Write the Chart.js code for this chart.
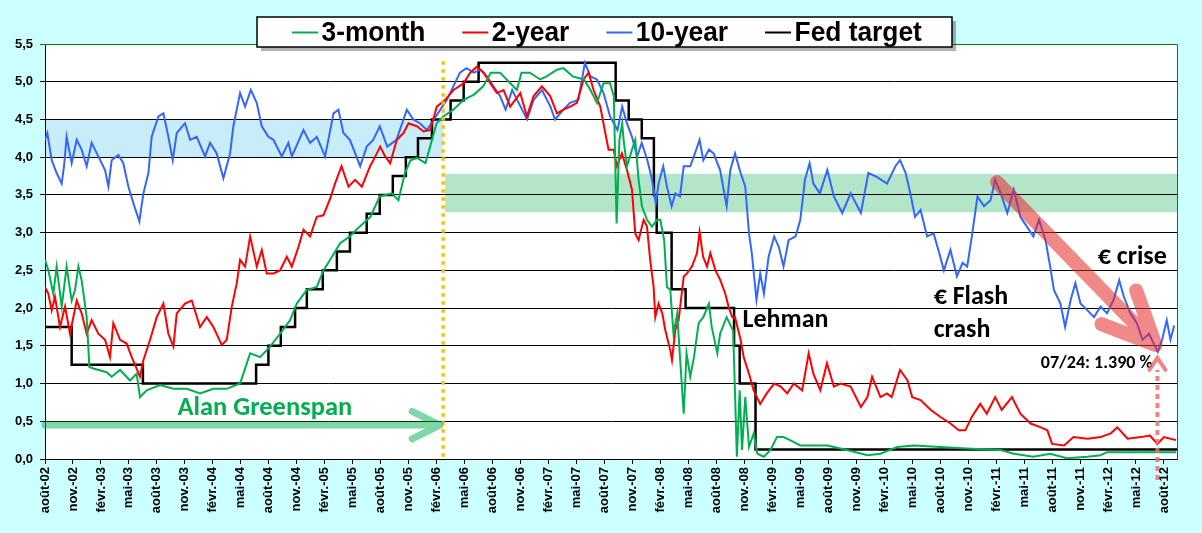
<!DOCTYPE html>
<html>
<head>
<meta charset="utf-8">
<script src="https://cdn.jsdelivr.net/npm/chart.js@4.4.0/dist/chart.umd.min.js"></script>
<style>
  html, body { margin: 0; padding: 0; background: #ccffff; }
  #wrap { width: 1202px; height: 533px; position: relative; }
</style>
</head>
<body>
<div id="wrap"><canvas id="ratesChart"></canvas></div>
<script>
// x = months counted from the août-02 tick (one tick every 3 months), y = rate in %
const tickLabels = [
  "août-02", "nov.-02", "févr.-03", "mai-03", "août-03", "nov.-03", "févr.-04", "mai-04",
  "août-04", "nov.-04", "févr.-05", "mai-05", "août-05", "nov.-05", "févr.-06", "mai-06",
  "août-06", "nov.-06", "févr.-07", "mai-07", "août-07", "nov.-07", "févr.-08", "mai-08",
  "août-08", "nov.-08", "févr.-09", "mai-09", "août-09", "nov.-09", "févr.-10", "mai-10",
  "août-10", "nov.-10", "févr.-11", "mai-11", "août-11", "nov.-11", "févr.-12", "mai-12",
  "août-12"
];

const threeMonth = [
  [0,2.64],[0.36,2.50],[0.89,2.19],[1.25,2.55],[1.79,2.02],[2.32,2.55],[2.86,2.10],[3.22,2.24],
  [3.58,2.55],[3.93,2.37],[4.47,1.88],[4.76,1.22],[5.19,1.20],[6.62,1.15],[7.15,1.09],[8.05,1.18],
  [9.12,1.04],[9.83,1.13],[10.19,0.82],[10.9,0.91],[12.34,0.98],[13.77,0.93],[15.2,0.93],[16.63,0.87],
  [18.06,0.93],[19.49,0.93],[20.92,1.00],[22.0,1.40],[23.07,1.35],[24.14,1.49],[25.21,1.66],[26.29,1.84],
  [27.0,2.06],[28.08,2.24],[29.15,2.28],[29.86,2.50],[30.58,2.64],[31.65,2.86],[32.7,2.95],[33.4,3.04],
  [34.9,3.21],[35.9,3.48],[37.2,3.52],[37.9,3.43],[38.6,3.79],[39.2,3.96],[39.9,3.99],[40.8,3.92],
  [41.3,4.14],[42.0,4.45],[42.7,4.54],[43.8,4.63],[44.9,4.76],[46.0,4.83],[47.0,4.94],[47.8,5.12],
  [48.8,5.12],[49.9,4.98],[50.6,4.89],[51.1,5.12],[52.0,5.12],[53.1,5.03],[53.8,5.07],[54.9,5.16],
  [55.6,5.18],[56.6,5.07],[57.8,5.03],[58.5,4.89],[59.2,4.72],[59.9,4.98],[60.6,4.98],[61.0,4.81],
  [61.3,3.12],[61.6,4.23],[61.9,4.45],[62.05,4.23],[62.41,3.88],[62.95,4.10],[63.3,4.23],[63.66,3.70],
  [64.02,3.35],[64.56,3.17],[65.09,3.08],[65.63,3.17],[65.99,3.17],[66.4,2.90],[66.7,2.28],[67.06,2.24],
  [67.4,1.66],[67.8,1.93],[68.1,1.35],[68.5,0.60],[68.8,1.40],[69.2,1.09],[69.6,1.35],[70.1,1.80],
  [70.6,1.88],[71.2,2.06],[71.5,1.75],[72.1,1.40],[72.4,1.66],[73.1,1.88],[73.8,1.70],[74.2,0.03],
  [74.5,0.91],[74.75,0.12],[75.1,0.82],[75.5,0.16],[76.0,0.34],[76.4,0.07],[77.1,0.03],[77.8,0.12],
  [78.5,0.29],[79.2,0.29],[79.9,0.25],[81.0,0.18],[82.1,0.18],[83.9,0.18],[86.0,0.12],[88.2,0.05],
  [89.6,0.07],[91.4,0.16],[93.2,0.18],[96.0,0.16],[98.8,0.14],[102.5,0.12],[103.9,0.07],[106.0,0.03],
  [107.8,0.07],[109.6,0.01],[111.8,0.03],[113.2,0.05],[113.9,0.09],[116.8,0.09],[121.3,0.09]
];

const twoYear = [
  [0,2.28],[0.36,2.19],[0.72,1.97],[1.07,2.15],[1.61,1.75],[2.15,2.02],[2.68,1.66],[3.40,2.10],
  [3.93,1.93],[4.47,1.66],[5.0,1.84],[5.72,1.66],[6.44,1.58],[6.97,1.35],[7.33,1.80],[8.05,1.58],
  [8.76,1.53],[9.3,1.35],[10.19,1.09],[10.55,1.31],[11.27,1.58],[11.98,1.88],[12.7,2.06],[13.23,1.66],
  [13.77,1.49],[14.13,1.93],[15.02,2.06],[15.74,2.10],[16.63,1.75],[17.35,1.88],[18.06,1.75],[18.96,1.51],
  [19.49,1.58],[20.03,2.02],[20.57,2.33],[20.92,2.64],[21.46,2.55],[22.0,2.95],[22.71,2.55],[23.25,2.77],
  [23.78,2.46],[24.5,2.46],[25.21,2.50],[25.93,2.68],[26.47,2.55],[27.18,2.81],[27.72,3.04],[28.43,2.95],
  [29.15,3.21],[29.86,3.23],[30.58,3.45],[31.1,3.65],[31.8,3.88],[32.55,3.61],[33.26,3.70],[33.98,3.61],
  [34.87,3.88],[35.59,4.05],[35.95,4.14],[36.48,4.01],[37.02,3.92],[37.73,4.23],[38.45,4.32],[38.98,4.45],
  [39.88,4.41],[40.59,4.34],[41.31,4.36],[42.02,4.67],[42.92,4.76],[43.81,4.89],[44.89,4.98],[45.6,5.12],
  [46.32,5.20],[47.03,5.12],[47.75,4.98],[48.46,4.85],[49.18,4.89],[49.89,4.67],[50.43,4.76],[50.97,4.85],
  [51.68,4.54],[52.4,4.81],[53.29,4.94],[54.18,4.81],[54.9,4.58],[55.6,4.63],[56.33,4.67],[57.04,4.72],
  [57.76,5.03],[58.3,5.12],[58.83,4.89],[59.55,4.67],[60.09,4.32],[60.44,4.10],[60.98,4.10],[61.34,3.88],
  [61.87,4.05],[62.41,3.83],[62.95,3.57],[63.3,2.99],[63.66,2.90],[64.2,3.17],[64.56,3.08],[64.9,2.64],
  [65.27,2.28],[65.45,1.88],[65.8,2.06],[66.2,1.93],[66.52,1.71],[67.06,1.44],[67.24,1.31],[67.6,1.71],
  [67.95,1.84],[68.5,2.42],[68.85,2.46],[69.38,2.55],[69.92,2.73],[70.2,3.01],[70.58,2.68],[71.0,2.55],
  [71.35,2.73],[71.9,2.50],[72.42,2.37],[72.96,2.19],[73.3,2.02],[73.7,1.88],[74.0,1.88],[74.6,1.58],
  [74.93,1.35],[75.5,1.13],[76.0,0.91],[76.7,0.73],[77.4,0.87],[78.2,1.00],[78.9,0.96],[79.6,0.87],
  [80.3,1.00],[81.2,0.91],[81.9,1.40],[82.4,1.13],[83.15,0.91],[83.86,1.27],[84.6,0.96],[85.3,1.00],
  [86.4,0.96],[87.5,0.69],[88.2,0.82],[88.7,1.09],[89.6,0.82],[90.3,0.87],[90.8,0.82],[91.7,1.18],
  [92.5,1.04],[93.0,0.82],[93.9,0.78],[95.0,0.65],[96.0,0.56],[97.1,0.47],[98.0,0.38],[98.7,0.38],
  [99.4,0.56],[100.3,0.73],[101.0,0.60],[101.9,0.82],[102.6,0.65],[103.7,0.82],[104.6,0.60],[105.7,0.47],
  [106.8,0.42],[107.5,0.38],[108.0,0.20],[109.3,0.18],[110.3,0.29],[111.8,0.27],[113.2,0.29],[114.3,0.34],
  [115.0,0.42],[116.1,0.27],[117.5,0.29],[118.5,0.31],[119.3,0.20],[120.0,0.29],[121.3,0.25]
];

const tenYear = [
  [0,4.23],[0.25,4.32],[0.72,3.96],[1.25,3.79],[1.79,3.65],[2.04,3.88],[2.32,4.27],[2.86,3.92],
  [3.40,4.23],[3.93,4.10],[4.47,3.88],[5.0,4.19],[5.72,4.01],[6.44,3.83],[6.8,3.61],[7.15,3.96],
  [7.87,4.03],[8.4,3.92],[8.94,3.61],[9.48,3.39],[10.12,3.15],[10.55,3.52],[11.09,3.79],[11.44,4.27],
  [12.16,4.54],[12.7,4.58],[13.23,4.27],[13.7,3.96],[14.13,4.32],[15.02,4.45],[15.56,4.23],[16.27,4.27],
  [17.17,4.01],[17.7,4.19],[18.42,4.05],[19.13,3.72],[19.85,4.05],[20.2,4.41],[20.92,4.85],[21.46,4.67],
  [22.07,4.89],[22.71,4.72],[23.25,4.41],[23.96,4.27],[24.5,4.23],[25.39,4.01],[26.1,4.19],[26.47,4.01],
  [27.72,4.36],[28.43,4.19],[29.15,4.27],[30.04,4.01],[30.94,4.58],[31.47,4.63],[32.0,4.32],[32.7,4.23],
  [33.8,3.88],[34.5,4.14],[35.2,4.23],[35.9,4.41],[36.7,4.14],[37.7,4.23],[38.8,4.63],[39.5,4.50],
  [40.2,4.45],[40.95,4.36],[41.7,4.50],[42.4,4.63],[43.1,4.76],[43.8,4.94],[44.5,5.12],[45.2,5.18],
  [46.0,5.12],[46.7,5.16],[47.4,5.07],[48.1,4.94],[48.8,4.81],[49.4,4.63],[50.1,4.89],[50.8,4.72],
  [51.7,4.50],[52.4,4.76],[53.3,4.89],[54.2,4.67],[54.7,4.50],[55.6,4.63],[56.3,4.72],[57.2,4.76],
  [57.9,5.25],[58.5,5.07],[59.2,5.03],[59.9,4.85],[60.6,4.54],[61.4,4.36],[61.9,4.67],[62.4,4.45],
  [62.95,4.27],[63.5,4.01],[64.0,4.19],[64.6,3.96],[65.1,3.70],[65.5,3.39],[65.8,3.65],[66.3,3.88],
  [66.7,3.61],[67.2,3.35],[67.6,3.52],[68.1,3.48],[68.5,3.88],[69.2,3.88],[69.7,4.05],[70.2,4.23],
  [70.6,3.96],[71.2,4.10],[71.7,4.05],[72.4,3.83],[73.1,3.35],[73.5,3.83],[74.0,4.05],[74.6,3.79],
  [75.1,3.61],[75.5,2.99],[75.8,2.73],[76.3,2.11],[76.7,2.46],[77.1,2.19],[77.6,2.68],[78.2,2.95],
  [78.7,2.81],[79.2,2.55],[79.75,2.90],[80.5,2.95],[81.0,3.17],[81.5,3.70],[82.0,3.92],[82.4,3.65],
  [83.1,3.52],[83.9,3.83],[84.6,3.48],[85.5,3.26],[86.4,3.52],[87.5,3.26],[88.3,3.79],[89.2,3.74],
  [90.3,3.65],[91.2,3.88],[91.7,3.96],[92.3,3.79],[92.8,3.52],[93.3,3.21],[93.9,3.30],[94.6,2.95],
  [95.3,2.99],[95.9,2.73],[96.4,2.50],[97.1,2.77],[97.8,2.42],[98.4,2.60],[98.9,2.55],[99.4,2.95],
  [100.0,3.48],[100.7,3.35],[101.4,3.43],[101.9,3.70],[102.5,3.52],[103.2,3.26],[103.9,3.57],[104.6,3.21],
  [105.3,3.08],[106.0,2.95],[106.6,3.17],[107.3,2.90],[107.8,2.55],[108.2,2.24],[108.9,2.06],[109.4,1.75],
  [110.0,2.11],[110.5,2.33],[111.05,2.06],[111.8,1.97],[112.5,1.88],[113.2,2.02],[113.9,1.93],[114.6,2.11],
  [115.2,2.37],[115.7,2.15],[116.4,1.93],[117.1,1.80],[117.7,1.58],[118.4,1.66],[118.9,1.53],[119.35,1.42],
  [119.8,1.58],[120.3,1.84],[120.7,1.58],[121.1,1.77]
];

// each point = date of a change and the new target
const fedTarget = [
  [0,1.75],[2.86,1.25],[10.5,1.00],[22.64,1.25],[23.96,1.50],[25.29,1.75],[26.82,2.00],[28.08,2.25],
  [29.79,2.50],[31.3,2.75],[32.7,3.00],[34.5,3.25],[35.9,3.50],[37.3,3.75],[38.7,4.00],[40.0,4.25],
  [41.5,4.50],[43.5,4.75],[44.9,5.00],[46.5,5.25],[61.2,4.75],[62.6,4.50],[64.0,4.25],[65.3,3.50],
  [65.6,3.00],[67.2,2.25],[68.7,2.00],[73.9,1.50],[74.5,1.00],[76.2,0.125],[121.4,0.125]
];

const xMax = 121.4;
const greenspanEnd = 42.7;
const tenYearLow = 119.3;

const toXY = arr => arr.map(p => ({ x: p[0], y: p[1] }));

Chart.defaults.font.family = '"Liberation Sans", Arial, sans-serif';
Chart.defaults.color = "#000";

const noteFont = '"Carlito", "Lato", sans-serif';

function strokeArrow(ctx, x1, y1, x2, y2, headLen, headAngle) {
  const ang = Math.atan2(y2 - y1, x2 - x1);
  ctx.beginPath();
  ctx.moveTo(x1, y1);
  ctx.lineTo(x2, y2);
  ctx.moveTo(x2 - headLen * Math.cos(ang - headAngle), y2 - headLen * Math.sin(ang - headAngle));
  ctx.lineTo(x2, y2);
  ctx.lineTo(x2 - headLen * Math.cos(ang + headAngle), y2 - headLen * Math.sin(ang + headAngle));
  ctx.stroke();
}

const decorations = {
  id: "decorations",
  beforeDraw(chart) {
    const { ctx, chartArea: a, scales: { x, y } } = chart;
    ctx.save();
    ctx.fillStyle = "#fff";
    ctx.fillRect(a.left, a.top, a.right - a.left, a.bottom - a.top);
    // 10-year range under Greenspan
    ctx.fillStyle = "#c9ecf9";
    ctx.fillRect(a.left, y.getPixelForValue(4.5), x.getPixelForValue(greenspanEnd) - a.left,
      y.getPixelForValue(4.0) - y.getPixelForValue(4.5));
    // 10-year range after
    ctx.fillStyle = "#b3e6c9";
    const gx = x.getPixelForValue(greenspanEnd) + 2;
    ctx.fillRect(gx, y.getPixelForValue(3.78), a.right - gx,
      y.getPixelForValue(3.27) - y.getPixelForValue(3.78));
    ctx.restore();
  },
  afterDatasetsDraw(chart) {
    const { ctx, chartArea: a, scales: { x, y } } = chart;
    ctx.save();
    ctx.lineCap = "round";
    ctx.lineJoin = "round";

    // end of Greenspan term
    ctx.strokeStyle = "#ffc000";
    ctx.lineWidth = 3.5;
    ctx.lineCap = "butt";
    ctx.setLineDash([3.5, 4.5]);
    ctx.beginPath();
    ctx.moveTo(x.getPixelForValue(greenspanEnd), y.getPixelForValue(5.27));
    ctx.lineTo(x.getPixelForValue(greenspanEnd), a.bottom);
    ctx.stroke();
    ctx.setLineDash([]);
    ctx.lineCap = "round";

    // Greenspan arrow
    ctx.strokeStyle = "rgba(0,176,80,0.5)";
    ctx.lineWidth = 7;
    strokeArrow(ctx, a.left, y.getPixelForValue(0.45), x.getPixelForValue(42.35), y.getPixelForValue(0.45), 31, 0.46);

    // falling 10-year arrow
    ctx.strokeStyle = "rgba(232,40,40,0.55)";
    ctx.lineWidth = 14;
    strokeArrow(ctx, x.getPixelForValue(102.1), y.getPixelForValue(3.67),
      x.getPixelForValue(119.1), y.getPixelForValue(1.51), 58, 0.43);

    // text notes
    ctx.textBaseline = "alphabetic";
    ctx.textAlign = "left";
    ctx.fillStyle = "#00b050";
    ctx.font = "bold 26.5px " + noteFont;
    ctx.fillText("Alan Greenspan", x.getPixelForValue(14.2), y.getPixelForValue(0.585));
    ctx.fillStyle = "#000";
    ctx.font = "bold 26px " + noteFont;
    ctx.fillText("Lehman", x.getPixelForValue(74.8), y.getPixelForValue(1.75));
    ctx.fillText("€ Flash", x.getPixelForValue(95.3), y.getPixelForValue(2.06));
    ctx.fillText("crash", x.getPixelForValue(95.3), y.getPixelForValue(1.62));
    ctx.fillText("€ crise", x.getPixelForValue(112.9), y.getPixelForValue(2.58));
    ctx.font = "bold 18px " + noteFont;
    ctx.fillText("07/24: 1.390 %", x.getPixelForValue(106.8), y.getPixelForValue(1.21));
    ctx.restore();
  },
  afterDraw(chart) {
    const { ctx, chartArea: a, scales: { x, y } } = chart;
    ctx.save();
    // plot frame right and top
    ctx.strokeStyle = "#008000";
    ctx.lineWidth = 1;
    ctx.beginPath();
    ctx.moveTo(a.left, a.top + 0.5);
    ctx.lineTo(a.right + 0.5, a.top + 0.5);
    ctx.lineTo(a.right + 0.5, a.bottom);
    ctx.stroke();

    // dotted marker of the 10-year low
    const lx = x.getPixelForValue(tenYearLow);
    const ty = y.getPixelForValue(1.34);
    ctx.strokeStyle = "rgba(240,110,110,0.85)";
    ctx.lineWidth = 4;
    ctx.setLineDash([5, 4]);
    ctx.beginPath();
    ctx.moveTo(lx, a.bottom + 21);
    ctx.lineTo(lx, ty + 12);
    ctx.stroke();
    ctx.setLineDash([]);
    ctx.lineCap = "round";
    ctx.beginPath();
    ctx.moveTo(lx - 8, ty + 12);
    ctx.lineTo(lx, ty);
    ctx.lineTo(lx + 8, ty + 12);
    ctx.stroke();

    // legend box
    const bx = 257, by = 17, bw = 695, bh = 30;
    ctx.fillStyle = "rgba(0,0,0,0.3)";
    ctx.fillRect(bx + 4, by + 4, bw, bh);
    ctx.fillStyle = "#fff";
    ctx.fillRect(bx, by, bw, bh);
    ctx.strokeStyle = "#000";
    ctx.lineWidth = 1.5;
    ctx.strokeRect(bx, by, bw, bh);
    ctx.font = 'bold 28px "Liberation Sans", Arial, sans-serif';
    ctx.textBaseline = "alphabetic";
    ctx.textAlign = "left";
    const squeeze = 0.94;
    let cx = 292;
    chart.data.datasets.forEach(ds => {
      ctx.strokeStyle = ds.borderColor;
      ctx.lineWidth = 2;
      ctx.lineCap = "butt";
      ctx.beginPath();
      ctx.moveTo(cx, 32.5);
      ctx.lineTo(cx + 26, 32.5);
      ctx.stroke();
      ctx.fillStyle = "#000";
      ctx.save();
      ctx.translate(cx + 29.5, 40.7);
      ctx.scale(squeeze, 1);
      ctx.fillText(ds.label, 0, 0);
      ctx.restore();
      cx += 29.5 + ctx.measureText(ds.label).width * squeeze + 37;
    });
    ctx.restore();
  }
};

new Chart(document.getElementById("ratesChart"), {
  type: "line",
  data: {
    datasets: [
      { label: "3-month", data: toXY(threeMonth), borderColor: "#00b050", borderWidth: 2 },
      { label: "2-year", data: toXY(twoYear), borderColor: "#ff0000", borderWidth: 2 },
      { label: "10-year", data: toXY(tenYear), borderColor: "#3366ff", borderWidth: 2 },
      { label: "Fed target", data: toXY(fedTarget), borderColor: "#000000", borderWidth: 2.5, stepped: true }
    ]
  },
  options: {
    responsive: true,
    maintainAspectRatio: false,
    animation: false,
    events: [],
    elements: { point: { radius: 0 }, line: { tension: 0 } },
    layout: { padding: { top: 44, right: 25, left: 0, bottom: 0 } },
    plugins: { legend: { display: false }, tooltip: { enabled: false } },
    scales: {
      x: {
        type: "linear",
        min: 0,
        max: xMax,
        afterFit: s => { s.height = 74; },
        border: { color: "#000", width: 1 },
        grid: { drawOnChartArea: false, drawTicks: true, tickLength: 5, color: "#000" },
        ticks: {
          stepSize: 3,
          includeBounds: false,
          autoSkip: false,
          minRotation: 90,
          maxRotation: 90,
          padding: 3,
          font: { size: 13, weight: "bold" },
          callback: v => tickLabels[Math.round(v / 3)]
        }
      },
      y: {
        min: 0,
        max: 5.5,
        afterFit: s => { s.width = 45; },
        border: { color: "#000", width: 1 },
        grid: {
          color: c => (c.tick && c.tick.value === 5.5 ? "#008000" : "#000"),
          tickLength: 5,
          lineWidth: 1
        },
        ticks: {
          stepSize: 0.5,
          padding: 7,
          font: { size: 13, weight: "bold" },
          callback: v => v.toFixed(1).replace(".", ",")
        }
      }
    }
  },
  plugins: [decorations]
});
</script>
</body>
</html>
